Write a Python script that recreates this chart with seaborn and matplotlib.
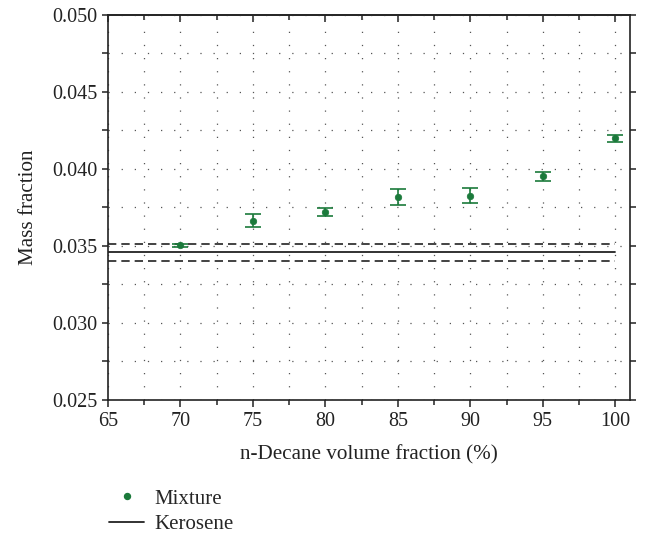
import numpy as np
import pandas as pd
import matplotlib
matplotlib.use("Agg")
import matplotlib.pyplot as plt
from matplotlib.lines import Line2D
from matplotlib.ticker import MultipleLocator, FormatStrFormatter
import seaborn as sns

# Measured mass fraction of the n-decane mixtures
decane_pct = [70, 75, 80, 85, 90, 95, 100]
mixture_mass = [0.03505, 0.03664, 0.03720, 0.03816, 0.03827, 0.03952, 0.04198]
mixture_err = [0.00010, 0.00042, 0.00024, 0.00051, 0.00049, 0.00030, 0.00020]

# Kerosene reference value with its uncertainty band
kerosene_x = [65, 100]
kerosene_mass = 0.03459
kerosene_err = 0.00054

green = "#1b7a3b"
ink = "#222222"

sns.set_theme(style="ticks")
plt.rcParams["font.family"] = ["Liberation Serif", "DejaVu Serif"]
plt.rcParams["font.size"] = 14.5

fig = plt.figure(figsize=(6.46, 5.34), dpi=100)
ax = fig.add_axes([0.167, 0.251, 0.808, 0.721])

df_mix = pd.DataFrame({"x": decane_pct, "y": mixture_mass, "err": mixture_err})
df_ker = pd.DataFrame({
    "x": kerosene_x * 3,
    "y": [kerosene_mass] * 2 + [kerosene_mass + kerosene_err] * 2 + [kerosene_mass - kerosene_err] * 2,
    "kind": ["mean"] * 2 + ["upper"] * 2 + ["lower"] * 2,
})

# Kerosene: solid mean line, dashed bounds
sns.lineplot(data=df_ker[df_ker.kind == "mean"], x="x", y="y", color=ink,
             lw=1.3, ax=ax, legend=False, zorder=3)
for k in ("upper", "lower"):
    sns.lineplot(data=df_ker[df_ker.kind == k], x="x", y="y", color=ink,
                 lw=1.2, ax=ax, legend=False, zorder=3, dashes=False,
                 linestyle=(0, (5, 3)))

# Mixture points with error bars
ax.errorbar(df_mix.x, df_mix.y, yerr=df_mix.err, fmt="none", ecolor=green,
            elinewidth=1.2, capsize=5.5, capthick=1.2, zorder=4)
sns.scatterplot(data=df_mix, x="x", y="y", color=green, s=22, edgecolor=green,
                linewidth=0.5, ax=ax, zorder=5, legend=False)

ax.set_xlim(65, 101)
ax.set_ylim(0.025, 0.050)
ax.xaxis.set_major_locator(MultipleLocator(5))
ax.xaxis.set_minor_locator(MultipleLocator(2.5))
ax.yaxis.set_major_locator(MultipleLocator(0.005))
ax.yaxis.set_minor_locator(MultipleLocator(0.0025))
ax.yaxis.set_major_formatter(FormatStrFormatter("%.3f"))

# Dotted grid on major and minor ticks
grid_kw = dict(color="#555555", linewidth=0.9, linestyle=(0, (1, 9.5)))
ax.grid(True, which="both", **grid_kw)
ax.set_axisbelow(True)

for s in ax.spines.values():
    s.set_linewidth(1.2)
    s.set_color(ink)

ax.tick_params(axis="both", which="both", colors=ink, labelsize=14.5,
               width=1.1, labelcolor=ink)
ax.tick_params(axis="x", which="major", length=5, direction="out",
               top=False, pad=4)
ax.tick_params(axis="x", which="minor", length=3.5, direction="out", top=False)
ax.tick_params(axis="y", which="both", length=4, direction="out",
               right=True, labelright=False)

# Inward ticks along the top spine
top = ax.secondary_xaxis("top")
top.xaxis.set_major_locator(MultipleLocator(5))
top.xaxis.set_minor_locator(MultipleLocator(2.5))
top.tick_params(which="major", direction="in", length=5, width=1.1,
                labeltop=False, colors=ink)
top.tick_params(which="minor", direction="in", length=3.5, width=1.1,
                colors=ink)
top.spines["top"].set_linewidth(1.2)

ax.set_xlabel("n-Decane volume fraction (%)", fontsize=15.2, labelpad=10,
              color=ink)
ax.set_ylabel("Mass fraction", fontsize=15.2, labelpad=10, color=ink)

handles = [
    Line2D([], [], marker="o", linestyle="none", color=green, markersize=4.3),
    Line2D([], [], color=ink, lw=1.3),
]
fig.legend(handles, ["Mixture", "Kerosene"], loc="upper left",
           bbox_to_anchor=(0.162, 0.092), frameon=False, fontsize=15,
           handlelength=1.7, handletextpad=0.5, labelspacing=0.3,
           borderpad=0.2, borderaxespad=0)

fig.savefig("out.png", dpi=100)
